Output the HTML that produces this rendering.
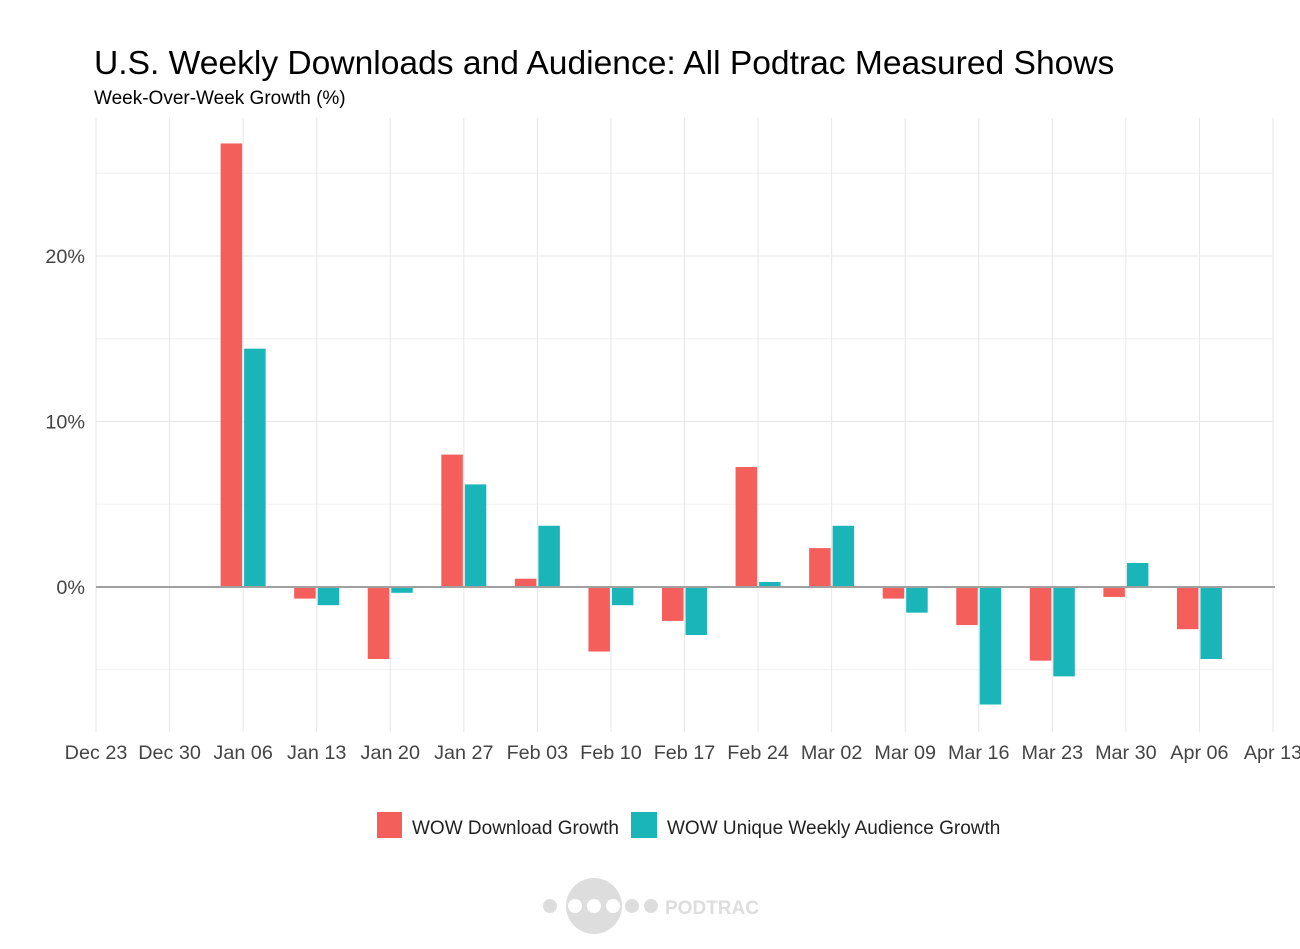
<!DOCTYPE html>
<html><head><meta charset="utf-8"><style>
body{margin:0;background:#fff;font-family:"Liberation Sans",sans-serif;}
svg text{font-family:"Liberation Sans",sans-serif;}
</style></head><body>
<svg width="1300" height="944" viewBox="0 0 1300 944">
<text x="94" y="74" font-size="33.6" fill="#000">U.S. Weekly Downloads and Audience: All Podtrac Measured Shows</text>
<text x="94" y="104" font-size="19" fill="#000">Week-Over-Week Growth (%)</text>
<g id="grid"></g><g id="bars"></g><g id="axes"></g>
<g>
<rect x="377" y="812" width="25" height="26" fill="#F45F5B"/>
<text x="412" y="834" font-size="19" fill="#222">WOW Download Growth</text>
<rect x="631" y="812" width="26" height="26" fill="#19B5B8"/>
<text x="667" y="834" font-size="19" fill="#222">WOW Unique Weekly Audience Growth</text>
</g>
<g fill="#ddd">
<circle cx="550" cy="906" r="7"/><circle cx="594" cy="906" r="28"/>
<circle cx="575" cy="906" r="7" fill="#fff"/><circle cx="594" cy="906" r="7" fill="#fff"/><circle cx="613" cy="906" r="7" fill="#fff"/>
<circle cx="632" cy="906" r="7"/><circle cx="651" cy="906" r="7"/>
<text x="665" y="914" font-size="19" font-weight="bold" fill="#ddd">PODTRAC</text>
</g>
</svg>
<script>
const ticks=["Dec 23","Dec 30","Jan 06","Jan 13","Jan 20","Jan 27","Feb 03","Feb 10","Feb 17","Feb 24","Mar 02","Mar 09","Mar 16","Mar 23","Mar 30","Apr 06","Apr 13"];
const categories=["Jan 06","Jan 13","Jan 20","Jan 27","Feb 03","Feb 10","Feb 17","Feb 24","Mar 02","Mar 09","Mar 16","Mar 23","Mar 30","Apr 06"];
const downloads=[26.8,-0.7,-4.35,8.0,0.5,-3.9,-2.05,7.25,2.35,-0.7,-2.3,-4.45,-0.6,-2.55];
const audience=[14.4,-1.1,-0.35,6.2,3.7,-1.1,-2.9,0.3,3.7,-1.55,-7.1,-5.4,1.45,-4.35];
const yTicks=[0,10,20];
const NS="http://www.w3.org/2000/svg";
const x0=96,x1=1273,yTop=118,yBot=732;
const xs=i=>x0+i*(x1-x0)/(ticks.length-1);
const xc=c=>xs(ticks.indexOf(c));
const ys=v=>587-v*16.55;
function mk(tag,attrs,parent){const e=document.createElementNS(NS,tag);for(const k in attrs)e.setAttribute(k,attrs[k]);document.getElementById(parent).appendChild(e);return e;}
for(let v=-5;v<=25;v+=5){
 const l=mk("line",{x1:x0,x2:x1,y1:ys(v),y2:ys(v),stroke:v%10===0?"#e6e6e6":"#f0f0f0","stroke-width":1},"grid");
 
 
}
ticks.forEach((t,i)=>{
 const l=mk("line",{x1:xs(i),x2:xs(i),y1:yTop,y2:yBot,stroke:"#e6e6e6","stroke-width":1},"grid");
 
 
 const tx=mk("text",{x:xs(i),y:759,"font-size":19.8,fill:"#444","text-anchor":"middle"},"axes");
 tx.textContent=t;
 
 
});
yTicks.forEach(v=>{
 const tx=mk("text",{x:85,y:ys(v)+7,"font-size":19.8,fill:"#444","text-anchor":"end"},"axes");
 tx.textContent=v+"%";
 
 
});
const bw=21.5;
categories.forEach((c,i)=>{
 const cx=xc(c);
 [[downloads[i],cx-bw-1,"#F45F5B","bar-download"],[audience[i],cx+1,"#19B5B8","bar-audience"]].forEach(([v,x,col,n])=>{
  const r=mk("rect",{x:x,y:Math.min(ys(v),ys(0)),width:bw,height:Math.abs(ys(v)-ys(0)),fill:col},"bars");
  
  
 });
});
const z=mk("line",{x1:x0,x2:1275,y1:ys(0),y2:ys(0),stroke:"#a0a0a0","stroke-width":2},"axes");


</script>
</body></html>
